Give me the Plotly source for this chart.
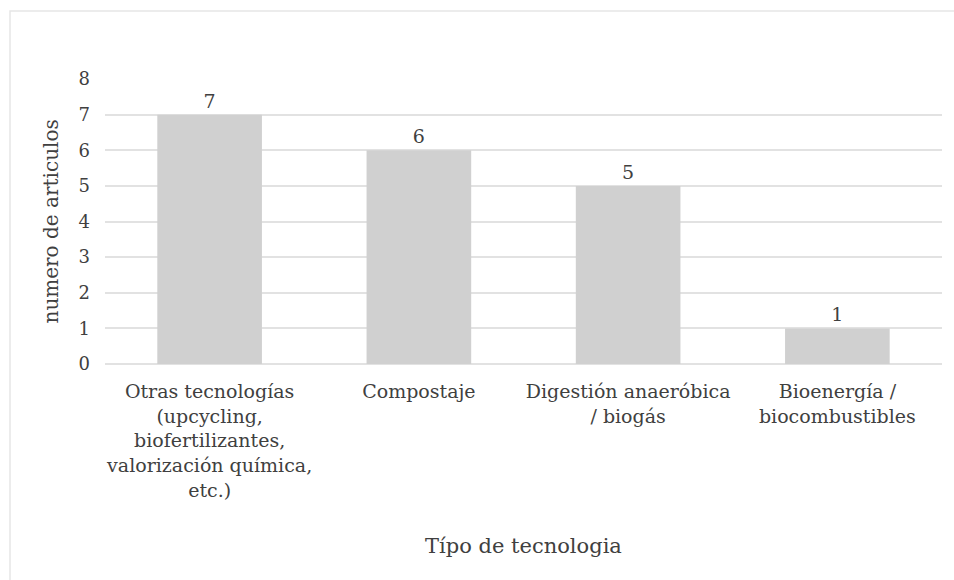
import plotly.graph_objects as go

categories = [
    "Otras tecnologías<br>(upcycling,<br>biofertilizantes,<br>valorización química,<br>etc.)",
    "Compostaje",
    "Digestión anaeróbica<br>/ biogás",
    "Bioenergía /<br>biocombustibles",
]
values = [7, 6, 5, 1]
y_ticks = [0, 1, 2, 3, 4, 5, 6, 7, 8]

FONT = "DejaVu Serif"
TXT = "#404040"
W, H = 954, 580
L, R, T, B = 105, 12, 79, 216

fig = go.Figure(go.Bar(
    x=categories, y=values,
    marker=dict(color="#d0d0d0", line=dict(width=0)),
    text=[str(v) for v in values], textposition="outside",
    textfont=dict(family=FONT, size=19, color=TXT),
    cliponaxis=False,
))

pw = W - L - R
ph = H - T - B
fig.update_layout(
    width=W, height=H,
    margin=dict(l=L, r=R, t=T, b=B),
    plot_bgcolor="white", paper_bgcolor="white",
    bargap=0.5, showlegend=False,
    font=dict(family=FONT, size=19, color=TXT),
    xaxis=dict(tickfont=dict(family=FONT, size=19, color=TXT), showgrid=False,
               showline=False, ticks="", fixedrange=True, ticklabelstandoff=14),
    yaxis=dict(range=[0, 8], tickvals=y_ticks, showgrid=True, gridcolor="#e2e2e2",
               gridwidth=1.5, zeroline=True, zerolinecolor="#e2e2e2", zerolinewidth=1.5,
               tickfont=dict(family=FONT, size=18, color=TXT), ticks="", ticklabelstandoff=14),
    shapes=[dict(type="rect", xref="paper", yref="paper",
                 x0=(10 - L) / pw, x1=(970 - L) / pw,
                 y0=(H - B - 590) / ph, y1=(H - B - 11) / ph,
                 line=dict(color="#e6e6e6", width=1.5), fillcolor="rgba(0,0,0,0)", layer="below")],
    annotations=[
        dict(text="Típo de tecnologia", xref="paper", yref="paper",
             x=0.5, y=(H - B - 546) / ph, xanchor="center", yanchor="middle",
             showarrow=False, font=dict(family=FONT, size=21, color=TXT)),
        dict(text="numero de articulos", xref="paper", yref="paper",
             x=(50 - L) / pw, y=0.5, xanchor="center", yanchor="middle", textangle=-90,
             showarrow=False, font=dict(family=FONT, size=20, color=TXT)),
    ],
)

fig.write_html("out.html")
